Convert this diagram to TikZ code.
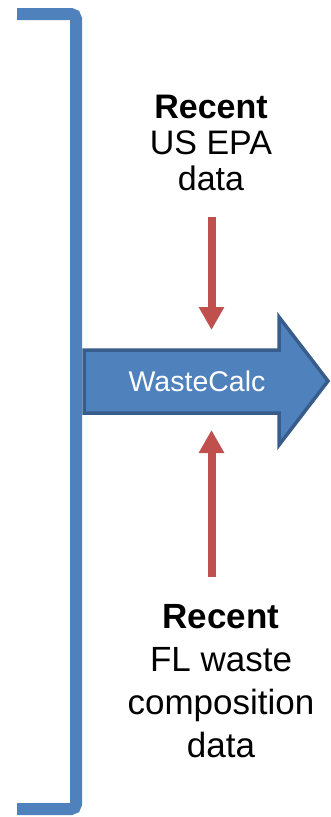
\documentclass[tikz,border=0pt]{standalone}
\usepackage{fontspec}
\setmainfont{Liberation Sans}
\usetikzlibrary{arrows.meta}
\definecolor{accblue}{HTML}{4F81BD}
\definecolor{accedge}{HTML}{385D8A}
\definecolor{accred}{HTML}{C0504D}
\tikzset{
    feed/.style={accred, line width=8pt, -{Triangle[width=24pt,length=23pt]}},
    source/.style={align=center, inner sep=0pt, anchor=base},
}
\begin{document}
    \begin{tikzpicture}[x=1pt, y=-1pt]
        \useasboundingbox (0,0) rectangle (331,817);
        \draw[accblue, line width=12pt, rounded corners=5pt]
            (17,14) -- (76,14) -- (76,809) -- (17,809);
        \draw[accedge, fill=accblue, line width=3.5pt, line join=miter]
            (84,350) -- (279,350) -- (279,317) -- (328,381)
            -- (279,445) -- (279,413) -- (84,413) -- cycle;
        \node[white, inner sep=0pt, font=\fontsize{28.5}{32}\selectfont]
            (calc) at (197,381) {WasteCalc};
        \node[source, font=\fontsize{34}{36}\selectfont] (epa) at (211,190)
            {\textbf{Recent}\\US EPA\\data};
        \node[source, font=\fontsize{35}{43}\selectfont] (fl) at (221,757)
            {\textbf{Recent}\\FL waste\\composition\\data};
        \coordinate (epa feed) at (211.5,217);
        \coordinate (epa in) at (211.5,330);
        \coordinate (fl feed) at (211.5,577);
        \coordinate (fl in) at (211.5,430);
        \draw[feed] (epa feed) -- (epa in);
        \draw[feed] (fl feed) -- (fl in);
    \end{tikzpicture}
\end{document}
